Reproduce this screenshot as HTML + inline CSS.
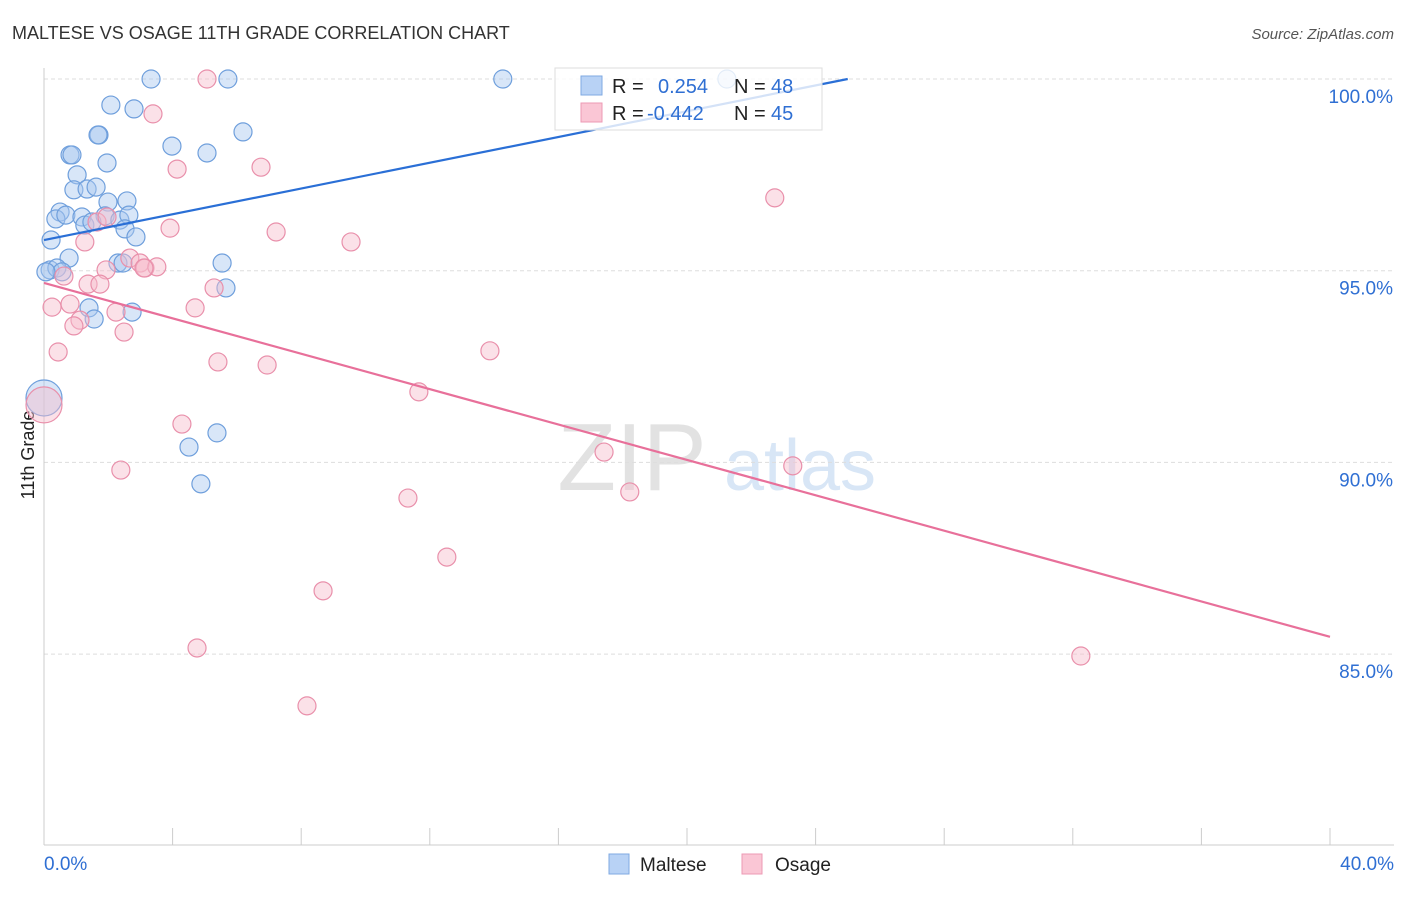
<!DOCTYPE html>
<html><head><meta charset="utf-8"><style>
body{margin:0;background:#fff;font-family:"Liberation Sans",sans-serif}
svg text{font-family:"Liberation Sans",sans-serif}
</style></head><body>
<svg id="chart" width="1406" height="892">
<text x="12" y="39" font-size="18" fill="#333">MALTESE VS OSAGE 11TH GRADE CORRELATION CHART</text>
<text x="1394" y="39" font-size="15" fill="#555" font-style="italic" text-anchor="end">Source: ZipAtlas.com</text>
<text x="34" y="455" font-size="18" fill="#222" transform="rotate(-90 34 455)" text-anchor="middle">11th Grade</text>
<g>
<text x="632" y="490" font-size="96" fill="#e2e2e2" font-family="Liberation Serif,serif" text-anchor="middle">ZIP</text>
<text x="800" y="490" font-size="72" fill="#d8e6f6" text-anchor="middle">atlas</text>
</g>
<g id="grid"></g><g id="axes"></g><g id="pts"></g><g id="lines"></g>
<g>
<rect x="555" y="68" width="267" height="62" fill="#fff" fill-opacity="0.8" stroke="#ddd"/>
<rect x="581" y="76" width="21" height="19" fill="#b8d2f5" stroke="#7fa9e2"/>
<rect x="581" y="103" width="21" height="19" fill="#fac6d5" stroke="#ec9ab4"/>
<text x="612" y="93" font-size="20" fill="#222">R = </text><text x="658" y="93" font-size="20" fill="#2f6fd3">0.254</text>
<text x="734" y="93" font-size="20" fill="#222">N = </text><text x="771" y="93" font-size="20" fill="#2f6fd3">48</text>
<text x="612" y="120" font-size="20" fill="#222">R = </text><text x="647" y="120" font-size="20" fill="#2f6fd3">-0.442</text>
<text x="734" y="120" font-size="20" fill="#222">N = </text><text x="771" y="120" font-size="20" fill="#2f6fd3">45</text>
</g>
<g>
<rect x="609" y="854" width="20" height="20" fill="#b8d2f5" stroke="#7fa9e2"/>
<text x="640" y="871" font-size="19" fill="#222">Maltese</text>
<rect x="742" y="854" width="20" height="20" fill="#fac6d5" stroke="#ec9ab4"/>
<text x="775" y="871" font-size="19" fill="#222">Osage</text>
</g>
</svg>
<script>
const xTicks=[0,4,8,12,16,20,24,28,32,36,40];
const yTicks=[85,90,95,100];
const blueX=[3.33,5.72,14.27,21.24,2.08,2.80,1.71,1.68,3.98,6.19,0.81,0.87,5.07,1.96,1.03,0.93,1.34,1.62,1.99,2.58,0.50,0.37,0.68,1.18,1.27,1.90,2.36,2.64,2.52,2.86,0.22,0.78,2.30,2.46,5.54,5.66,0.19,0.40,0.56,0.06,1.40,1.56,2.74,0,5.38,4.51,4.88,1.49];
const blueY=[100,100,100,100,99.32,99.22,98.54,98.54,98.25,98.62,98.02,98.02,98.07,97.81,97.50,97.11,97.13,97.18,96.79,96.82,96.53,96.35,96.45,96.40,96.19,96.43,96.32,96.45,96.09,95.88,95.80,95.33,95.20,95.20,95.20,94.55,95.02,95.07,94.97,94.97,94.03,93.74,93.92,91.68,90.77,90.40,89.44,96.27];
const pinkX=[5.07,3.39,4.14,6.75,22.73,7.22,3.92,9.55,1.27,1.65,2.67,2.99,3.14,3.51,1.93,1.37,1.74,0.62,5.29,0.25,0.81,4.70,2.24,1.12,0.93,2.49,0.44,5.41,6.94,13.87,11.66,0,4.29,17.42,23.29,2.39,18.22,11.32,12.53,8.68,4.76,32.25,8.18,3.11,1.96];
const pinkY=[100,99.09,97.65,97.70,96.90,96.01,96.11,95.75,95.75,96.27,95.33,95.20,95.07,95.10,95.02,94.65,94.65,94.86,94.55,94.05,94.13,94.03,93.92,93.71,93.56,93.40,92.88,92.62,92.54,92.91,91.84,91.50,91.00,90.27,89.91,89.80,89.23,89.07,87.53,86.65,85.16,84.95,83.65,95.07,96.40];
const blueLine=[[0,95.8],[25,100]];
const pinkLine=[[0,94.68],[40,85.45]];
const NS="http://www.w3.org/2000/svg";
const sx=v=>44+v/40*1286, sy=v=>79+(100-v)/5*191.7;
function mk(p,t,a){const e=document.createElementNS(NS,t);for(const k in a)e.setAttribute(k,a[k]);p.appendChild(e);return e;}
const grid=document.getElementById('grid'),axes=document.getElementById('axes'),pts=document.getElementById('pts'),lines=document.getElementById('lines');
yTicks.forEach(v=>{const l=mk(grid,'line',{x1:44,x2:1394,y1:sy(v),y2:sy(v),stroke:'#ddd','stroke-dasharray':'4 3'});

const t=mk(axes,'text',{x:1393,y:sy(v)+24,'font-size':19,fill:'#2f6fd3','text-anchor':'end'});t.textContent=v.toFixed(1)+'%';
});
const ax=mk(axes,'line',{x1:44,x2:44,y1:68,y2:845,stroke:'#ccc'});
const bx=mk(axes,'line',{x1:44,x2:1394,y1:845,y2:845,stroke:'#ccc'});
xTicks.forEach(v=>{const l=mk(axes,'line',{x1:sx(v),x2:sx(v),y1:828,y2:845,stroke:'#ccc'});});
[[0,'start'],[40,'end']].forEach(([v,a])=>{const t=mk(axes,'text',{x:v?1394:44,y:870,'font-size':19,fill:'#2f6fd3','text-anchor':a});t.textContent=v.toFixed(1)+'%';
});
function dots(X,Y,f,s,n){X.forEach((x,i)=>{const r=(x===0)?18:9;const c=mk(pts,'circle',{cx:sx(x),cy:sy(Y[i]),r:r,fill:f,'fill-opacity':0.45,stroke:s,'stroke-width':1.2});
});}
dots(blueX,blueY,'#a9c8f0','#6f9fdc','maltese-point');
dots(pinkX,pinkY,'#f7bccd','#e990ab','osage-point');
const b=mk(lines,'line',{x1:sx(blueLine[0][0]),y1:sy(blueLine[0][1]),x2:sx(blueLine[1][0]),y2:sy(blueLine[1][1]),stroke:'#2a6fd6','stroke-width':2.2});

const p=mk(lines,'line',{x1:sx(pinkLine[0][0]),y1:sy(pinkLine[0][1]),x2:sx(pinkLine[1][0]),y2:sy(pinkLine[1][1]),stroke:'#e8709a','stroke-width':2.2});

</script>
</body></html>
